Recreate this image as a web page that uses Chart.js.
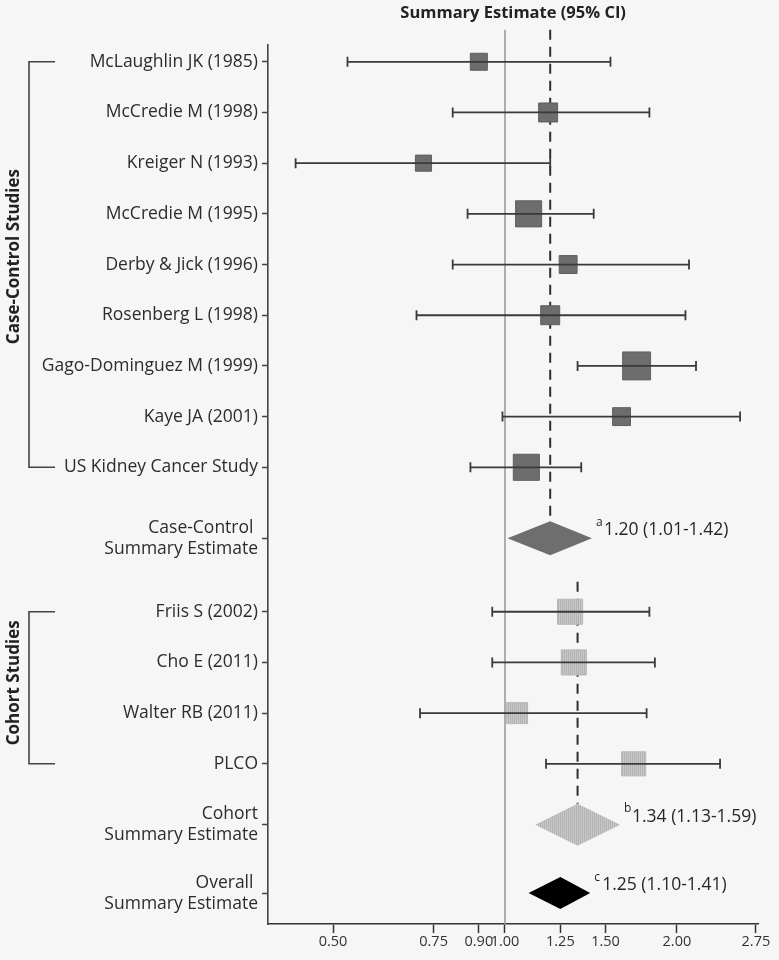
<!DOCTYPE html>
<html>
<head>
<meta charset="utf-8">
<script src="https://cdn.jsdelivr.net/npm/chart.js@4.4.1/dist/chart.umd.min.js"></script>
<style>
  body { margin: 0; background: #f6f6f6; }
  #wrap { width: 779px; height: 960px; }
</style>
</head>
<body>
<div id="wrap"><canvas id="chart"></canvas></div>
<script>
// studies, top to bottom
const studyLabels = [
  'McLaughlin JK (1985)', 'McCredie M (1998)', 'Kreiger N (1993)', 'McCredie M (1995)',
  'Derby & Jick (1996)', 'Rosenberg L (1998)', 'Gago-Dominguez M (1999)', 'Kaye JA (2001)',
  'US Kidney Cancer Study', 'Friis S (2002)', 'Cho E (2011)', 'Walter RB (2011)', 'PLCO'
]
const studyGroup = ['cc', 'cc', 'cc', 'cc', 'cc', 'cc', 'cc', 'cc', 'cc', 'cohort', 'cohort', 'cohort', 'cohort']
const studyEst = [0.90, 1.19, 0.72, 1.10, 1.29, 1.20, 1.70, 1.60, 1.09, 1.30, 1.32, 1.05, 1.68]
const studyLo = [0.53, 0.81, 0.43, 0.86, 0.81, 0.70, 1.34, 0.99, 0.87, 0.95, 0.95, 0.71, 1.18]
const studyHi = [1.53, 1.79, 1.20, 1.43, 2.10, 2.07, 2.16, 2.58, 1.36, 1.79, 1.83, 1.77, 2.38]
const studyWeight = [2.9, 3.6, 2.6, 6.8, 3.2, 3.6, 7.8, 3.2, 6.8, 6.3, 6.3, 4.4, 5.8]

// summary estimates: case-control, cohort, overall
const summaryLabels = ['Case-Control \nSummary Estimate', 'Cohort\nSummary Estimate', 'Overall \nSummary Estimate']
const summaryEst = [1.20, 1.34, 1.25]
const summaryLo = [1.01, 1.13, 1.10]
const summaryHi = [1.42, 1.59, 1.41]
const summaryNote = ['a', 'b', 'c']

const xTicks = [0.50, 0.75, 0.90, 1.00, 1.25, 1.50, 2.00, 2.75]

// layout: extra space before each row (in rows)
const rowGaps = [0, 0, 0, 0, 0, 0, 0, 0, 0, 0.4, 0.45, 0, 0, 0, 0.2, 0.35]
const diamondHalf = [17, 21, 16]
const summaryFill = ['#6e6e6e', 'hatch', '#000000']

const rows = []
studyLabels.forEach((l, i) => { if (studyGroup[i] === 'cc') rows.push({ kind: 'study', i }) })
rows.push({ kind: 'summary', i: 0 })
studyLabels.forEach((l, i) => { if (studyGroup[i] === 'cohort') rows.push({ kind: 'study', i }) })
rows.push({ kind: 'summary', i: 1 }, { kind: 'summary', i: 2 })
let acc = -1
rows.forEach((r, k) => { acc += 1 + rowGaps[k]; r.y = acc })
const studyY = [], summaryY = []
rows.forEach(r => { if (r.kind === 'study') studyY[r.i] = r.y; else summaryY[r.i] = r.y })
const rowText = rows.map(r => (r.kind === 'study' ? studyLabels[r.i] : summaryLabels[r.i]).split('\n'))

function hatch(base, line) {
  const c = document.createElement('canvas')
  c.width = 2; c.height = 2
  const g = c.getContext('2d')
  g.fillStyle = base; g.fillRect(0, 0, 2, 2)
  g.fillStyle = line; g.fillRect(0, 0, 1, 2)
  return g.createPattern(c, 'repeat')
}
const lightHatch = hatch('#c8c8c8', '#b3b3b3')

const side = w => 10 * Math.sqrt(w) / Math.SQRT2

const ciSets = studyLabels.map((l, i) => ({
  type: 'line',
  data: [{ x: studyLo[i], y: studyY[i] }, { x: studyHi[i], y: studyY[i] }],
  borderColor: '#3a3a3a',
  borderWidth: 1.8,
  pointStyle: 'line',
  pointRotation: 90,
  pointRadius: 5,
  pointBorderWidth: 1.8,
  pointBorderColor: '#3a3a3a',
  order: 0
}))

const squareSet = group => {
  const idx = studyLabels.map((l, i) => i).filter(i => studyGroup[i] === group)
  return {
    type: 'scatter',
    data: idx.map(i => ({ x: studyEst[i], y: studyY[i] })),
    pointStyle: 'rect',
    pointRadius: idx.map(i => side(studyWeight[i])),
    pointBackgroundColor: group === 'cc' ? '#6d6d6d' : lightHatch,
    pointBorderColor: group === 'cc' ? '#5f5f5f' : '#b8b8b8',
    pointBorderWidth: 1,
    order: 1
  }
}

const forestExtras = {
  id: 'forestExtras',
  beforeDraw(chart) {
    const { ctx, width, height } = chart
    ctx.save()
    ctx.fillStyle = '#f6f6f6'
    ctx.fillRect(0, 0, width, height)
    ctx.restore()
  },
  beforeDatasetsDraw(chart) {
    const { ctx, chartArea, scales: { x, y } } = chart
    ctx.save()
    // line of no effect
    ctx.strokeStyle = '#9c9c9c'
    ctx.lineWidth = 1.6
    ctx.beginPath()
    ctx.moveTo(x.getPixelForValue(1), chartArea.top - 15)
    ctx.lineTo(x.getPixelForValue(1), chartArea.bottom)
    ctx.stroke()
    // dashed summary lines
    ctx.strokeStyle = '#2e2e2e'
    ctx.lineWidth = 2
    ctx.setLineDash([10, 7])
    const cohortTop = y.getPixelForValue(studyY[studyGroup.indexOf('cohort')]) - 30
    const starts = [chartArea.top - 15, cohortTop]
    for (let j = 0; j < 2; j++) {
      const px = x.getPixelForValue(summaryEst[j])
      ctx.beginPath()
      ctx.moveTo(px, starts[j])
      ctx.lineTo(px, y.getPixelForValue(summaryY[j]) - diamondHalf[j])
      ctx.stroke()
    }
    ctx.restore()
  },
  afterDatasetsDraw(chart) {
    const { ctx, scales: { x, y } } = chart
    ctx.save()
    summaryEst.forEach((est, j) => {
      const cy = y.getPixelForValue(summaryY[j])
      const l = x.getPixelForValue(summaryLo[j])
      const r = x.getPixelForValue(summaryHi[j])
      const c = x.getPixelForValue(est)
      const h = diamondHalf[j]
      ctx.beginPath()
      ctx.moveTo(l, cy)
      ctx.lineTo(c, cy - h)
      ctx.lineTo(r, cy)
      ctx.lineTo(c, cy + h)
      ctx.closePath()
      ctx.fillStyle = summaryFill[j] === 'hatch' ? lightHatch : summaryFill[j]
      ctx.fill()
      // note
      ctx.fillStyle = '#262626'
      ctx.textBaseline = 'middle'
      ctx.textAlign = 'left'
      ctx.font = '12px "Open Sans"'
      ctx.fillText(summaryNote[j], r + 4, cy - 16)
      ctx.font = '17.5px "Open Sans"'
      ctx.fillText(`${est.toFixed(2)} (${summaryLo[j].toFixed(2)}-${summaryHi[j].toFixed(2)})`, r + 12, cy - 8)
    })
    ctx.restore()
  },
  afterDraw(chart) {
    const { ctx, scales: { y } } = chart
    ctx.save()
    ctx.strokeStyle = '#444'
    ctx.lineWidth = 1.6
    ctx.fillStyle = '#222'
    ctx.font = 'bold 17px "Open Sans"'
    ctx.textAlign = 'center'
    ctx.textBaseline = 'middle'
    const groups = [['cc', 'Case-Control Studies', -8], ['cohort', 'Cohort Studies', -5]]
    groups.forEach(([g, name, shift]) => {
      const ys = studyLabels.map((l, i) => i).filter(i => studyGroup[i] === g).map(i => y.getPixelForValue(studyY[i]))
      const t = Math.min(...ys), b = Math.max(...ys)
      ctx.beginPath()
      ctx.moveTo(55, t); ctx.lineTo(29, t); ctx.lineTo(29, b); ctx.lineTo(55, b)
      ctx.stroke()
      ctx.save()
      ctx.translate(14, (t + b) / 2 + shift)
      ctx.rotate(-Math.PI / 2)
      ctx.fillText(name, 0, 0)
      ctx.restore()
    })
    ctx.restore()
  }
}

Chart.defaults.font.family = '"Open Sans", sans-serif'
Chart.defaults.color = '#2c2c2c'

new Chart(document.getElementById('chart'), {
  type: 'scatter',
  data: { datasets: [...ciSets, squareSet('cc'), squareSet('cohort')] },
  options: {
    responsive: true,
    maintainAspectRatio: false,
    animation: false,
    layout: { padding: { right: 12 } },
    plugins: {
      legend: { display: false },
      tooltip: { enabled: false },
      title: {
        display: true,
        text: 'Summary Estimate (95% CI)',
        fullSize: false,
        color: '#222',
        font: { size: 16.5, weight: 'bold' },
        padding: { top: 3, bottom: 22 }
      }
    },
    scales: {
      x: {
        type: 'logarithmic',
        min: 0.3847,
        max: 2.776,
        afterBuildTicks: s => { s.ticks = xTicks.map(v => ({ value: v })) },
        afterFit: s => { s.height = 36 },
        ticks: { autoSkip: false, maxRotation: 0, padding: 0, font: { size: 14.5 }, color: '#333', callback: v => Number(v).toFixed(2) },
        grid: { drawOnChartArea: false, tickLength: 9, tickColor: '#333', tickWidth: 1.5 },
        border: { color: '#333', width: 1.6 }
      },
      y: {
        type: 'linear',
        reverse: true,
        min: -0.335,
        max: 17.01,
        afterBuildTicks: s => { s.ticks = rows.map(r => ({ value: r.y })) },
        afterFit: s => { s.width = 268; s.paddingTop = 0; s.paddingBottom = 0 },
        ticks: { autoSkip: false, padding: 4, font: { size: 17.5 }, color: '#2c2c2c', callback: (v, i) => rowText[i] },
        grid: { drawOnChartArea: false, tickLength: 6, tickColor: '#444', tickWidth: 1.5 },
        border: { color: '#444', width: 1.6 }
      }
    }
  },
  plugins: [forestExtras]
})
</script>
</body>
</html>
